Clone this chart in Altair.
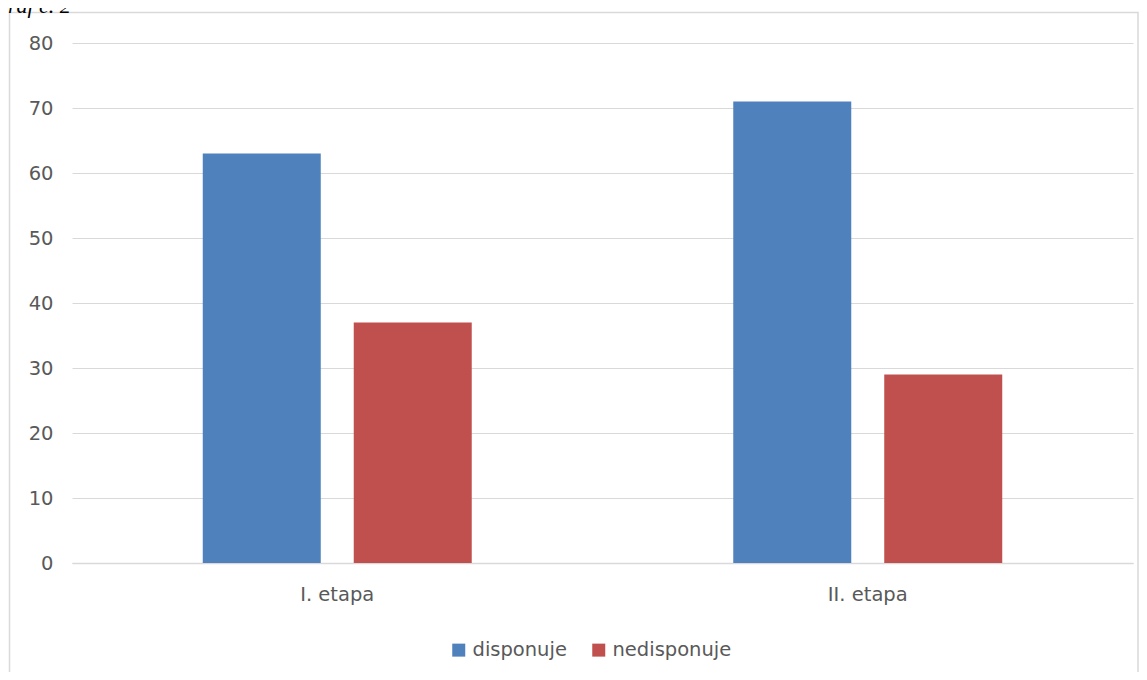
import altair as alt
import pandas as pd

categories = ["I. etapa", "II. etapa"]
series = ["disponuje", "nedisponuje"]
disponuje = [63, 71]
nedisponuje = [37, 29]
colors = ["#4f81bd", "#c0504d"]
y_ticks = [0, 10, 20, 30, 40, 50, 60, 70, 80]
caption = "Graf č. 2"

rows = []
for i, cat in enumerate(categories):
    rows.append({"etapa": cat, "series": series[0], "value": disponuje[i]})
    rows.append({"etapa": cat, "series": series[1], "value": nedisponuje[i]})
df = pd.DataFrame(rows)

FONT = "DejaVu Sans"
GREY = "#595959"
FS = 19.5

bars = alt.Chart(df).mark_bar().encode(
    x=alt.X(
        "etapa:N",
        sort=categories,
        scale=alt.Scale(paddingInner=0, paddingOuter=0),
        axis=alt.Axis(
            title=None, labelAngle=0, ticks=False, domainColor="#d9d9d9",
            domainWidth=1.5, labelPadding=22, labelFontSize=FS, labelColor=GREY,
            labelFont=FONT, grid=False,
        ),
    ),
    xOffset=alt.XOffset(
        "series:N", sort=series,
        scale=alt.Scale(paddingInner=0.2185, paddingOuter=0.866),
    ),
    y=alt.Y(
        "value:Q",
        scale=alt.Scale(domain=[0, 80], nice=False),
        axis=alt.Axis(
            title=None, values=y_ticks, domain=False, ticks=False,
            gridColor="#d9d9d9", gridWidth=1, labelPadding=19,
            labelFontSize=FS, labelColor=GREY, labelFont=FONT,
        ),
    ),
    color=alt.Color(
        "series:N", sort=series,
        scale=alt.Scale(domain=series, range=colors),
        legend=alt.Legend(
            title=None, orient="none", legendX=377, legendY=597,
            direction="horizontal", symbolType="square", symbolSize=169,
            symbolStrokeWidth=0, labelFontSize=FS, labelColor=GREY,
            labelFont=FONT, columnPadding=22, labelOffset=4, padding=0,
        ),
    ),
)

decor = alt.Data(values=[{"t": caption}])

border = alt.Chart(decor).mark_rect(
    fillOpacity=0, stroke="#d9d9d9", strokeWidth=1.5
).encode(
    x=alt.value(-62.5), x2=alt.value(1066),
    y=alt.value(-30.5), y2=alt.value(660),
)

title = alt.Chart(decor).mark_text(
    align="left", baseline="alphabetic", font="Liberation Serif",
    fontStyle="italic", fontSize=22, color="#000000",
).encode(
    x=alt.value(-80), y=alt.value(-30), text="t:N",
)

chart = alt.layer(border, bars, title).properties(
    width=1061, height=520,
    autosize=alt.AutoSizeParams(type="none"),
    padding={"left": 64, "top": 35, "right": 6, "bottom": 109},
    background="white",
).configure_view(strokeWidth=0)

chart.save("out.html", embed_options={"renderer": "svg", "actions": False})
